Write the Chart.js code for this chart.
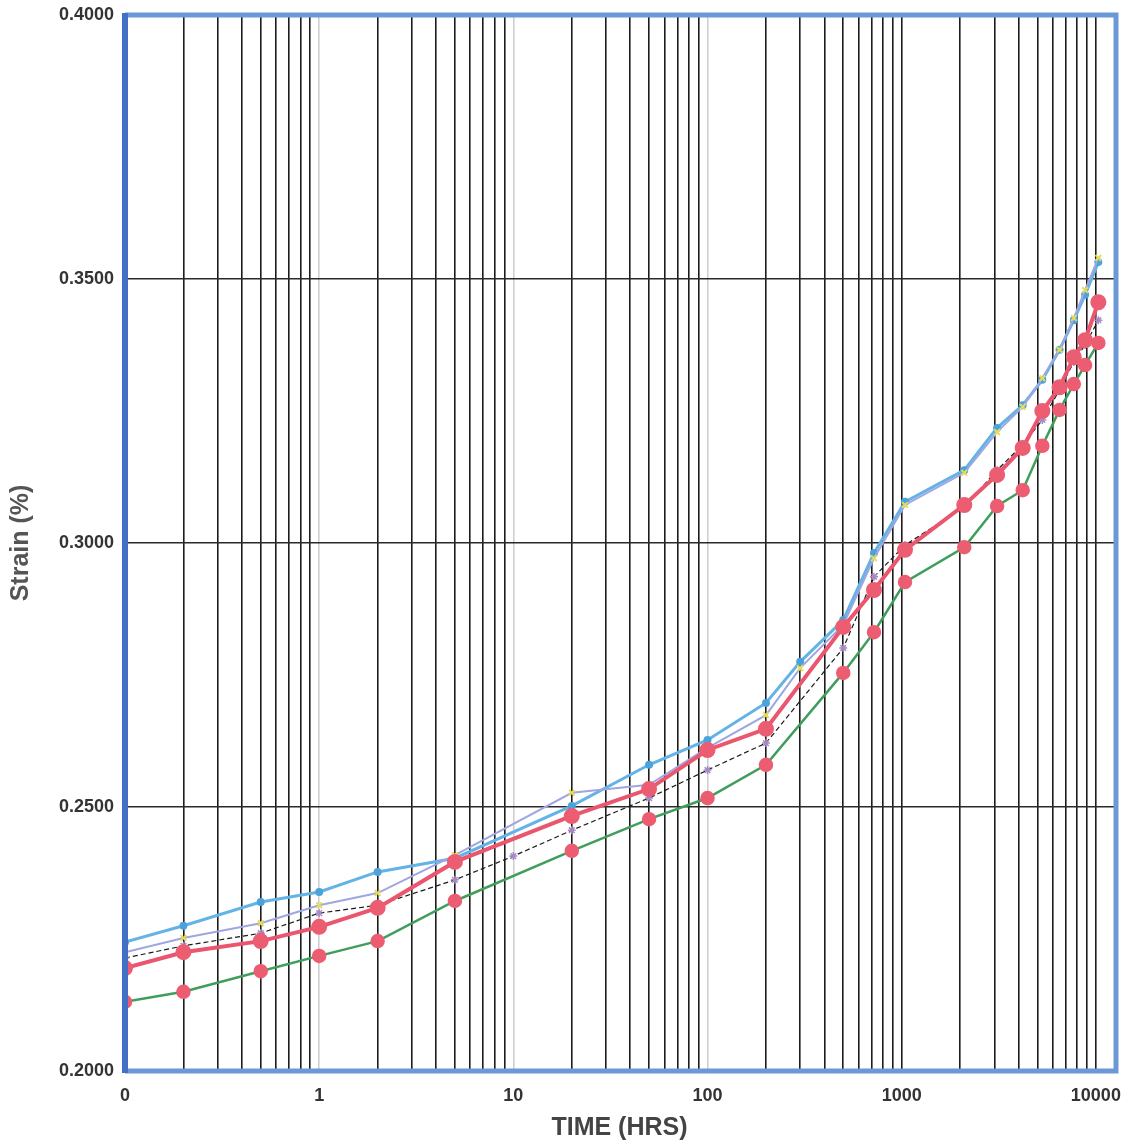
<!DOCTYPE html>
<html>
<head>
<meta charset="utf-8">
<title>Strain vs Time</title>
<script src="https://cdn.jsdelivr.net/npm/chart.js@4/dist/chart.umd.min.js"></script>
<style>
  html, body { margin: 0; padding: 0; background: #fff; }
  #wrap { width: 1124px; height: 1147px; position: relative; }
</style>
</head>
<body>
<div id="wrap"><canvas id="strain-chart"></canvas></div>
<script>
// ── Data ──────────────────────────────────────────────────────────────────

const X_MIN = 0.1;
const X_MAX = 12400;
const Y_TICKS = [0.2, 0.25, 0.3, 0.35, 0.4];

const blueTimes = [0.1, 0.2, 0.5, 1, 2, 5, 20, 50, 100, 200, 300, 500, 720, 1040, 2100, 3100, 4200, 5300, 6500, 7700, 8800, 10300];
const blueStrain = [0.2244, 0.2275, 0.2320, 0.2339, 0.2377, 0.2403, 0.2502, 0.2580, 0.2627, 0.2697, 0.2775, 0.2854, 0.2981, 0.3078, 0.3138, 0.3218, 0.3261, 0.3309, 0.3366, 0.3422, 0.3470, 0.3532];

const lilacTimes = [0.1, 0.2, 0.5, 1, 2, 5, 20, 50, 100, 200, 300, 500, 720, 1040, 2100, 3100, 4200, 5300, 6500, 7700, 8800, 10300];
const lilacStrain = [0.2225, 0.2252, 0.2280, 0.2314, 0.2337, 0.2409, 0.2527, 0.2542, 0.2612, 0.2674, 0.2763, 0.2845, 0.2971, 0.3072, 0.3133, 0.3210, 0.3258, 0.3312, 0.3366, 0.3426, 0.3479, 0.3540];

const blackTimes = [0.1, 0.2, 0.5, 1, 2, 5, 10, 20, 50, 100, 200, 500, 720, 1040, 2100, 3100, 4200, 5300, 6500, 7700, 8800, 10300];
const blackStrain = [0.2214, 0.2237, 0.2261, 0.2299, 0.2314, 0.2362, 0.2407, 0.2456, 0.2517, 0.2570, 0.2621, 0.2801, 0.2936, 0.2996, 0.3068, 0.3138, 0.3186, 0.3233, 0.3290, 0.3343, 0.3375, 0.3422];

const redTimes = [0.1, 0.2, 0.5, 1, 2, 5, 20, 50, 100, 200, 500, 720, 1040, 2100, 3100, 4200, 5300, 6500, 7700, 8800, 10300];
const redStrain = [0.2195, 0.2225, 0.2246, 0.2273, 0.2309, 0.2396, 0.2483, 0.2534, 0.2608, 0.2648, 0.2841, 0.2911, 0.2987, 0.3072, 0.3129, 0.3180, 0.3250, 0.3295, 0.3352, 0.3384, 0.3456];

const greenTimes = [0.1, 0.2, 0.5, 1, 2, 5, 20, 50, 100, 200, 500, 720, 1040, 2100, 3100, 4200, 5300, 6500, 7700, 8800, 10300];
const greenStrain = [0.2131, 0.2150, 0.2189, 0.2218, 0.2246, 0.2322, 0.2417, 0.2477, 0.2517, 0.2580, 0.2754, 0.2831, 0.2926, 0.2992, 0.3070, 0.3100, 0.3184, 0.3252, 0.3301, 0.3337, 0.3379];

// ── Helpers ────────────────────────────────────────────────────────────────

function pairs(times, vals) {
  return times.map((t, i) => ({ x: t, y: vals[i] }));
}

function logTicks(min, max) {
  const out = [];
  for (let k = -1; k <= 4; k++) {
    for (let n = 1; n <= 9; n++) {
      const v = Number((n * Math.pow(10, k)).toPrecision(6));
      if (v >= min && v <= max) out.push({ value: v });
    }
  }
  return out;
}

function isDecade(v) {
  const l = Math.log10(v);
  return Math.abs(l - Math.round(l)) < 1e-9;
}

const FONT = "'Liberation Sans', Arial, sans-serif";

// blue frame round the plot, like the scanned original
const framePlugin = {
  id: "frame",
  afterDraw(chart) {
    const { ctx, chartArea: a } = chart;
    ctx.save();
    ctx.strokeStyle = "#6b98d6";
    ctx.lineWidth = 5;
    ctx.beginPath();
    ctx.moveTo(a.left, a.top);
    ctx.lineTo(a.right + 2, a.top);
    ctx.lineTo(a.right + 2, a.bottom);
    ctx.lineTo(a.left, a.bottom);
    ctx.stroke();
    ctx.strokeStyle = "#4170c4";
    ctx.lineWidth = 6;
    ctx.beginPath();
    ctx.moveTo(a.left, a.top - 2);
    ctx.lineTo(a.left, a.bottom + 2);
    ctx.stroke();
    ctx.restore();
  },
};

// ── Chart ──────────────────────────────────────────────────────────────────

new Chart(document.getElementById("strain-chart"), {
  type: "line",
  data: {
    datasets: [
      {
        data: pairs(greenTimes, greenStrain),
        borderColor: "#3f9e5c",
        borderWidth: 2.5,
        pointStyle: "circle",
        pointRadius: 6,
        pointBackgroundColor: "#ec5d72",
        pointBorderColor: "#ec5d72",
        order: 2,
      },
      {
        data: pairs(blackTimes, blackStrain),
        borderColor: "#1a1a1a",
        borderWidth: 1.2,
        borderDash: [5, 3],
        pointStyle: "star",
        pointRadius: 4,
        pointBorderWidth: 1.5,
        pointBackgroundColor: "#a58ac4",
        pointBorderColor: "#a58ac4",
        order: 3,
      },
      {
        data: pairs(lilacTimes, lilacStrain),
        borderColor: "#9fa6e0",
        borderWidth: 2,
        pointStyle: "crossRot",
        pointRadius: 4,
        pointBorderWidth: 2,
        pointBorderColor: "#e6dc5a",
        order: 4,
      },
      {
        data: pairs(blueTimes, blueStrain),
        borderColor: "#63b3e6",
        borderWidth: 3,
        pointStyle: "circle",
        pointRadius: 2.5,
        pointBackgroundColor: "#4aa3dc",
        pointBorderColor: "#4aa3dc",
        order: 5,
      },
      {
        data: pairs(redTimes, redStrain),
        borderColor: "#e9566e",
        borderWidth: 4,
        pointStyle: "circle",
        pointRadius: 6,
        pointBackgroundColor: "#ec5d72",
        pointBorderColor: "#ec5d72",
        order: 1,
      },
    ],
  },
  options: {
    responsive: true,
    maintainAspectRatio: false,
    animation: false,
    layout: { padding: { top: 15, right: 0, left: 0, bottom: 0 } },
    plugins: { legend: { display: false }, tooltip: { enabled: false } },
    elements: { line: { tension: 0 } },
    scales: {
      x: {
        type: "logarithmic",
        min: X_MIN,
        max: X_MAX,
        afterBuildTicks: (scale) => { scale.ticks = logTicks(X_MIN, X_MAX); },
        afterFit: (scale) => {
          scale.height = 76;
          scale.paddingLeft = 0;
          scale.paddingRight = 0;
        },
        border: { display: false },
        grid: {
          drawTicks: false,
          lineWidth: 1.6,
          color: (c) => (c.tick && [1, 10, 100].includes(c.tick.value) ? "#cfcfcf" : "#1c1c1c"),
        },
        ticks: {
          autoSkip: false,
          maxRotation: 0,
          padding: 14,
          color: "#333",
          font: { family: FONT, size: 18, weight: "bold" },
          callback: (v) => (v === 0.1 ? "0" : isDecade(v) ? String(Math.round(v)) : ""),
        },
        title: {
          display: true,
          text: "TIME (HRS)",
          color: "#444",
          font: { family: FONT, size: 25, weight: "bold" },
          padding: { top: 0, bottom: 4 },
        },
      },
      y: {
        min: 0.2,
        max: 0.4,
        afterBuildTicks: (scale) => { scale.ticks = Y_TICKS.map((v) => ({ value: v })); },
        afterFit: (scale) => {
          scale.width = 125;
          scale.paddingTop = 0;
          scale.paddingBottom = 0;
        },
        border: { display: false },
        grid: { drawTicks: false, lineWidth: 1.6, color: "#2a2a2a" },
        ticks: {
          padding: 11,
          color: "#333",
          font: { family: FONT, size: 18, weight: "bold" },
          callback: (v) => v.toFixed(4),
        },
        title: {
          display: true,
          text: "Strain (%)",
          color: "#555",
          font: { family: FONT, size: 25, weight: "bold" },
          padding: { top: 6, bottom: 0 },
        },
      },
    },
  },
  plugins: [framePlugin],
});
</script>
</body>
</html>
